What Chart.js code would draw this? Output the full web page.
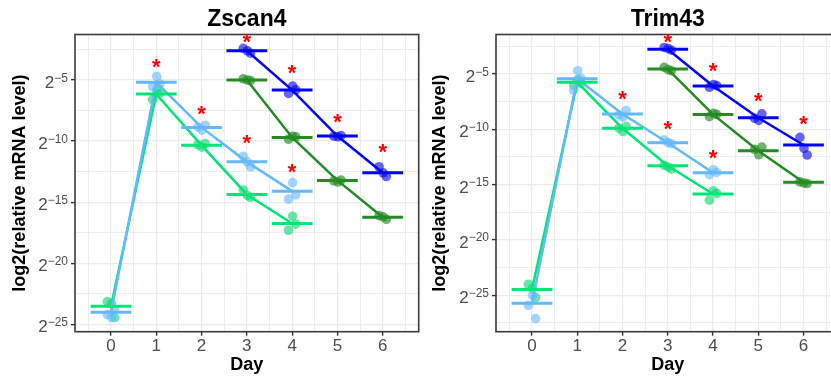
<!DOCTYPE html>
<html>
<head>
<meta charset="utf-8">
<script src="https://cdn.jsdelivr.net/npm/chart.js@4"></script>
<style>
  body { margin: 0; background: #fff; width: 831px; height: 381px; overflow: hidden; position: relative; }
  canvas { position: absolute; top: 0; }
  #zscan { left: 0; }
  #trim { left: 420px; }
</style>
</head>
<body>
<canvas id="zscan" width="420" height="381"></canvas>
<canvas id="trim" width="420" height="381"></canvas>
<script>
const FONT = "'Liberation Sans', Arial, sans-serif";

// days on the x axis
const earlyDays = [0, 1, 2, 3, 4];
const lateDays = [3, 4, 5, 6];
const xTickLabels = ["0", "1", "2", "3", "4", "5", "6"];
const yTickLabels = [-5, -10, -15, -20, -25]; // exponents of 2

// ---- Zscan4 (log2 values) ----
const zscanSkyMeans = [-24.02, -5.19, -8.88, -11.7, -14.1];
const zscanSkyReps = [[-24.2, -24.45, -23.8], [-4.7, -5.3, -5.55], [-8.7, -8.85, -9.1], [-11.25, -11.7, -12.1], [-13.4, -14.4, -14.75]];
const zscanSpringMeans = [-23.52, -6.15, -10.35, -14.37, -16.75];
const zscanSpringReps = [[-23.15, -23.3, -24.45], [-5.8, -6.1, -6.6], [-10.2, -10.3, -10.5], [-14.0, -14.45, -14.6], [-16.15, -16.8, -17.3]];
const zscanForestMeans = [-5.0, -9.7, -13.22, -16.23];
const zscanForestReps = [[-4.9, -5.0, -5.05], [-9.6, -9.65, -9.85], [-13.2, -13.25, -13.35], [-16.1, -16.2, -16.4]];
const zscanBlueMeans = [-2.6, -5.82, -9.59, -12.6];
const zscanBlueReps = [[-2.4, -2.6, -2.8], [-5.5, -5.8, -6.1], [-9.55, -9.6, -9.65], [-12.1, -12.6, -12.9]];
const zscanStarDays = [1, 2, 3, 3, 4, 4, 5, 6];
const zscanStarValues = [-3.55, -7.38, -9.73, -1.45, -12.1, -4.04, -8.0, -10.47];

// ---- Trim43 (log2 values) ----
const trimSkyMeans = [-25.73, -5.42, -8.62, -11.21, -13.92];
const trimSkyReps = [[-25.9, -25.0, -27.1], [-4.7, -5.4, -6.45], [-8.3, -8.7, -8.9], [-10.95, -11.2, -11.3], [-13.65, -13.9, -14.1]];
const trimSpringMeans = [-24.47, -5.75, -9.91, -13.29, -15.85];
const trimSpringReps = [[-24.0, -24.4, -25.2], [-5.5, -5.85, -6.0], [-9.76, -9.9, -10.2], [-13.25, -13.4, -13.6], [-15.55, -15.8, -16.4]];
const trimForestMeans = [-4.55, -8.65, -11.93, -14.79];
const trimForestReps = [[-4.4, -4.6, -4.7], [-8.55, -8.65, -8.85], [-11.6, -11.8, -12.3], [-14.75, -14.85, -14.9]];
const trimBlueMeans = [-2.77, -6.08, -8.95, -11.42];
const trimBlueReps = [[-2.6, -2.7, -2.85], [-5.95, -6.05, -6.2], [-8.6, -9.0, -9.2], [-10.73, -11.72, -12.32]];
const trimStarDays = [2, 3, 3, 4, 4, 5, 6];
const trimStarValues = [-6.84, -9.52, -1.63, -12.17, -4.28, -6.96, -9.1];

// small horizontal spread of the replicate dots
const jitter = [-0.08, 0.01, 0.08];

const xGrid = [-0.5, 0, 0.5, 1, 1.5, 2, 2.5, 3, 3.5, 4, 4.5, 5, 5.5, 6, 6.5];
const yGrid = [-27.5, -25, -22.5, -20, -17.5, -15, -12.5, -10, -7.5, -5, -2.5];

const COLORS = {
  sky: ["#63B8FF", "rgba(99,184,255,0.6)"],
  spring: ["#00E676", "rgba(0,215,110,0.6)"],
  forest: ["#228B22", "rgba(34,139,34,0.65)"],
  blue: ["#0000FF", "rgba(0,0,240,0.6)"],
};

function seriesDatasets(dayList, means, reps, color) {
  const pts = [];
  reps.forEach((vals, i) => vals.forEach((v, j) => {
    pts.push({ x: dayList[i] + jitter[(i + j) % 3], y: v });
  }));
  const bars = [];
  means.forEach((m, i) => {
    bars.push({ x: dayList[i] - 0.45, y: m }, { x: dayList[i] + 0.45, y: m }, { x: dayList[i], y: null });
  });
  return [
    { type: "scatter", data: pts, backgroundColor: color[1], borderWidth: 0, pointRadius: 4.8, order: 3 },
    { type: "line", data: dayList.map((d, i) => ({ x: d, y: means[i] })), borderColor: color[0],
      borderWidth: 2.5, pointRadius: 0, fill: false, order: 2 },
    { type: "line", data: bars, borderColor: color[0], borderWidth: 3, pointRadius: 0,
      spanGaps: false, borderCapStyle: "butt", order: 1 },
  ];
}

// border, title, superscript y labels and the red asterisks
const panelPlugin = {
  id: "panel",
  afterDraw(chart, args, opts) {
    const { ctx, chartArea: a, scales: { x, y } } = chart;
    ctx.save();
    ctx.strokeStyle = "#3a3a3a";
    ctx.lineWidth = 1.6;
    ctx.strokeRect(a.left, a.top, a.right - a.left, a.bottom - a.top);

    ctx.fillStyle = "#000";
    ctx.font = `bold 23px ${FONT}`;
    ctx.textAlign = "center";
    ctx.textBaseline = "alphabetic";
    ctx.fillText(opts.title, (a.left + a.right) / 2, 26);

    ctx.fillStyle = "#4D4D4D";
    ctx.textAlign = "right";
    yTickLabels.forEach(v => {
      const py = y.getPixelForValue(v);
      const exp = "\u2212" + Math.abs(v);
      const right = a.left - 7;
      ctx.font = `12px ${FONT}`;
      const ew = ctx.measureText(exp).width;
      ctx.fillText(exp, right, py + 1.5);
      ctx.font = `17px ${FONT}`;
      ctx.fillText("2", right - ew, py + 8);
    });

    ctx.fillStyle = "red";
    ctx.font = `bold 22px ${FONT}`;
    ctx.textAlign = "center";
    opts.starDays.forEach((d, i) => {
      ctx.fillText("*", x.getPixelForValue(d), y.getPixelForValue(opts.starValues[i]) + 12);
    });
    ctx.restore();
  },
};

function gridColor(ctx) { return "#EBEBEB"; }

function makeChart(id, title, sets, starDays, starValues, yMin, yMax, yWidth, padRight) {
  new Chart(document.getElementById(id), {
    type: "scatter",
    data: { datasets: sets },
    plugins: [panelPlugin],
    options: {
      responsive: false,
      animation: false,
      // no extra room for point overflow, the plot area is placed by hand
      layout: { autoPadding: false, padding: { top: 34.5, right: padRight, bottom: 0, left: 0 } },
      plugins: {
        legend: { display: false },
        tooltip: { enabled: false },
        panel: { title, starDays, starValues },
      },
      scales: {
        x: {
          type: "linear",
          min: -0.795,
          max: 6.795,
          afterBuildTicks: s => { s.ticks = xGrid.map(v => ({ value: v })); },
          afterFit: s => { s.height = 49.3; },
          border: { display: false },
          grid: {
            color: gridColor,
            lineWidth: c => (c.tick && c.tick.value % 1 === 0 ? 1.2 : 0.9),
            tickLength: 4,
            tickColor: c => (c.tick && c.tick.value % 1 === 0 ? "#333" : "rgba(0,0,0,0)"),
            tickWidth: 1.4,
          },
          ticks: {
            padding: 0,
            align: "inner",
            color: "#4D4D4D",
            font: { family: FONT, size: 17 },
            callback: v => (v % 1 === 0 ? xTickLabels[v] : ""),
          },
          title: { display: true, text: "Day", color: "#000", font: { family: FONT, size: 18, weight: "bold", lineHeight: "24px" } },
        },
        y: {
          type: "linear",
          min: yMin,
          max: yMax,
          afterBuildTicks: s => { s.ticks = yGrid.filter(v => v >= yMin && v <= yMax).map(v => ({ value: v })); },
          afterFit: s => { s.width = yWidth; },
          border: { display: false },
          grid: {
            color: gridColor,
            lineWidth: c => (c.tick && c.tick.value % 5 === 0 ? 1.2 : 0.9),
            tickLength: 4,
            tickColor: c => (c.tick && c.tick.value % 5 === 0 ? "#333" : "rgba(0,0,0,0)"),
            tickWidth: 1.4,
          },
          ticks: { display: false },
          title: { display: true, text: "log2(relative mRNA level)", color: "#000",
            font: { family: FONT, size: 18, weight: "bold", lineHeight: "32px" } },
        },
      },
    },
  });
}

makeChart("zscan", "Zscan4", [
  ...seriesDatasets(earlyDays, zscanSkyMeans, zscanSkyReps, COLORS.sky),
  ...seriesDatasets(earlyDays, zscanSpringMeans, zscanSpringReps, COLORS.spring),
  ...seriesDatasets(lateDays, zscanForestMeans, zscanForestReps, COLORS.forest),
  ...seriesDatasets(lateDays, zscanBlueMeans, zscanBlueReps, COLORS.blue),
], zscanStarDays, zscanStarValues, -25.61, -1.27, 75, 1.3);

makeChart("trim", "Trim43", [
  ...seriesDatasets(earlyDays, trimSkyMeans, trimSkyReps, COLORS.sky),
  ...seriesDatasets(earlyDays, trimSpringMeans, trimSpringReps, COLORS.spring),
  ...seriesDatasets(lateDays, trimForestMeans, trimForestReps, COLORS.forest),
  ...seriesDatasets(lateDays, trimBlueMeans, trimBlueReps, COLORS.blue),
], trimStarDays, trimStarValues, -28.29, -1.43, 76, 0.5);
</script>
</body>
</html>
